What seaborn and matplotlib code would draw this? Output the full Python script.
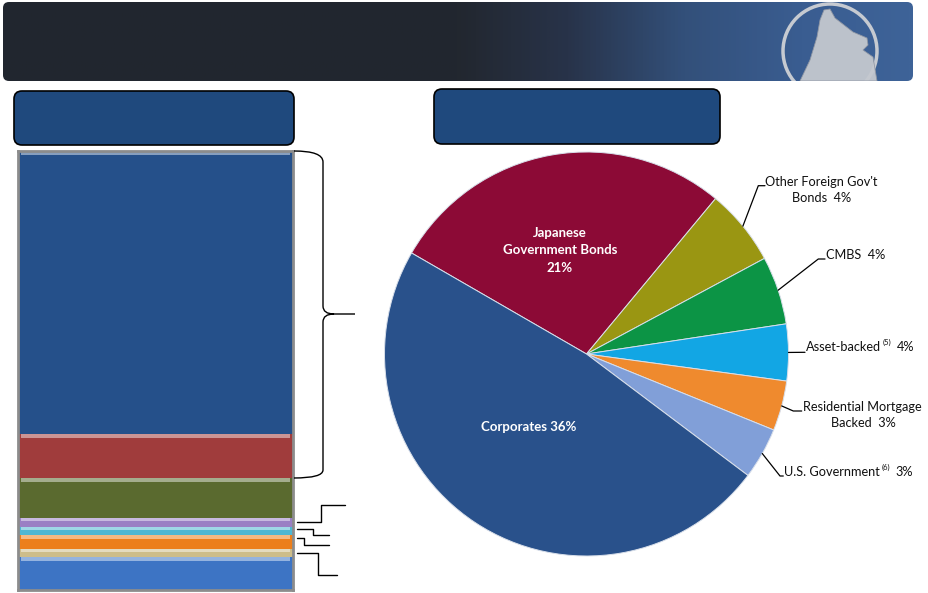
import numpy as np
import matplotlib
matplotlib.use("Agg")
import matplotlib.pyplot as plt
import seaborn as sns
from matplotlib.patches import FancyBboxPatch, Circle, Polygon, PathPatch
from matplotlib.path import Path
from matplotlib.colors import LinearSegmentedColormap, to_rgb

# stacked bar (share of bar height, top to bottom)
bar_share = [64.5, 10.0, 9.1, 2.1, 1.8, 3.2, 1.8, 7.5]
bar_colors = ['#25508a', '#a03c3c', '#5a6a2f', '#9a7fc4',
              '#4fb7d2', '#ec7f1c', '#cdbd8a', '#3d74c4']

# pie (clockwise from the Corporates/JGB border)
pie_names = ['Japanese Government Bonds', "Other Foreign Gov't Bonds", 'CMBS',
             'Asset-backed', 'Residential Mortgage Backed', 'U.S. Government',
             'Corporates']
pie_values = [20.8, 4.6, 4.1, 3.4, 3.0, 3.1, 36.1]
pie_colors = ['#8c0a36', '#9a9612', '#0c9445', '#12a6e4',
              '#ef8a2e', '#819fd8', '#29518b']

sns.set_theme(style='white')
plt.rcParams['font.family'] = ['Lato', 'DejaVu Sans']

W, H = 929, 593
fig = plt.figure(figsize=(W / 100, H / 100), dpi=100)
fig.patch.set_facecolor('white')

# overlay in pixel units
ov = fig.add_axes([0, 0, 1, 1], zorder=5)
ov.patch.set_alpha(0)
ov.axis('off')

# header bar with gradient
hdr = FancyBboxPatch((3, 2), 910, 79, boxstyle='round,pad=0,rounding_size=6',
                     fc='none', ec='none')
ov.add_patch(hdr)
hdr_cmap = LinearSegmentedColormap.from_list(
    'hdr', [(0, '#21262f'), (0.5, '#22272f'), (0.62, '#283349'),
            (0.75, '#33507a'), (0.88, '#3a5d91'), (1, '#3e6398')])
grad = np.tile(np.linspace(0, 1, 600), (2, 1))
im = ov.imshow(grad, cmap=hdr_cmap, extent=(3, 913, 81, 2), aspect='auto')
im.set_clip_path(hdr)
ring = Circle((830, 51), 47, fill=False, ec='#c6cad1', lw=2.5)
ov.add_patch(ring)
ring.set_clip_path(hdr)
rock = Polygon([(824, 10), (830, 9), (835, 18), (853, 32), (867, 38),
                (868, 45), (863, 50), (873, 57), (877, 81), (833, 81),
                (800, 81), (810, 60), (817, 37), (820, 20)],
               fc='#c4c8cf', ec='#8f96a3', lw=0.6, alpha=0.95)
ov.add_patch(rock)
rock.set_clip_path(hdr)

# title boxes
for x0, y0, x1, y1 in [(14, 91, 294, 145), (434, 89, 720, 144)]:
    ov.add_patch(FancyBboxPatch((x0, y0), x1 - x0, y1 - y0,
                                boxstyle='round,pad=0,rounding_size=8',
                                fc='#1f497d', ec='black', lw=1.2))

# stacked bar
axb = fig.add_axes([18 / W, 3 / H, 275 / W, 439 / H])
top = 100.0
for share, col in zip(bar_share, bar_colors):
    axb.bar(0, share, bottom=top - share, width=1.0, color=col, lw=0)
    light = tuple(0.55 * np.array(to_rgb(col)) + 0.45)
    hl = min(share * 0.3, 0.8)
    axb.bar(0, hl, bottom=top - hl, width=0.98, color=light, lw=0)
    top -= share
axb.set_xlim(-0.5, 0.5)
axb.set_ylim(0, 100)
axb.set_xticks([])
axb.set_yticks([])
for sp in axb.spines.values():
    sp.set_color('#8c8c8c')
    sp.set_linewidth(2)

# brace and leaders on the left
brace = Path([(294, 151), (323, 151), (323, 162), (323, 306),
              (323, 314), (334, 314), (323, 314), (323, 322),
              (323, 470), (323, 478), (294, 478),
              (334, 314), (355, 314)],
             [Path.MOVETO, Path.CURVE3, Path.CURVE3, Path.LINETO,
              Path.CURVE3, Path.CURVE3, Path.CURVE3, Path.CURVE3,
              Path.LINETO, Path.CURVE3, Path.CURVE3,
              Path.MOVETO, Path.LINETO])
ov.add_patch(PathPatch(brace, fc='none', ec='black', lw=1.0))
for pts in [[(297, 521.7), (321, 521.7), (321, 505), (345, 505)],
            [(297, 529), (313, 529), (313, 535), (329, 535)],
            [(297, 537.7), (304, 537.7), (304, 545), (329, 545)],
            [(297, 552.7), (318, 552.7), (318, 575), (337, 575)]]:
    xs, ys = zip(*pts)
    ov.plot(xs, ys, color='black', lw=1.0)

# pie
CX, CY, R = 586.5, 354.0, 202.0
axp = fig.add_axes([(CX - R) / W, (H - CY - R) / H, 2 * R / W, 2 * R / H])
wedges, _ = axp.pie(pie_values, colors=pie_colors, startangle=150,
                    counterclock=False,
                    wedgeprops=dict(edgecolor='#d8dfea', linewidth=0.7))
axp.set_xlim(-1, 1)
axp.set_ylim(-1, 1)

def rim(w):
    a = np.deg2rad((w.theta1 + w.theta2) / 2)
    return CX + R * np.cos(a), CY - R * np.sin(a)

leaders = {1: [(758.3, 185.7), (765, 185.7)],
           2: [(818.3, 259), (825, 259)],
           3: [(805, 352.3)],
           4: [(793.3, 411), (801.7, 411)],
           5: [(780, 476), (783.3, 476)]}
for i, pts in leaders.items():
    xs, ys = zip(*([rim(wedges[i])] + pts))
    ov.plot(xs, ys, color='black', lw=0.9)

fs = 9.2
tc = '#111111'
ov.text(765, 181.7, "Other Foreign Gov't", fontsize=fs, color=tc, ha='left', va='center')
ov.text(822, 198.3, "Bonds  4%", fontsize=fs, color=tc, ha='center', va='center')
ov.text(826, 255, "CMBS  4%", fontsize=fs, color=tc, ha='left', va='center')
ov.text(803.3, 406.7, "Residential Mortgage", fontsize=fs, color=tc, ha='left', va='center')
ov.text(863, 423.3, "Backed  3%", fontsize=fs, color=tc, ha='center', va='center')

def with_note(x, y, main, note, pct):
    t = ov.text(x, y, main, fontsize=fs, color=tc, ha='left', va='center')
    s = ov.annotate(note, xy=(1, 1), xycoords=t, xytext=(1.5, 1),
                    textcoords='offset points', fontsize=5.5, color=tc,
                    ha='left', va='top')
    ov.annotate(pct, xy=(1, 0.5), xycoords=(s, t), xytext=(3.5, 0),
                textcoords='offset points', fontsize=fs, color=tc,
                ha='left', va='center')

with_note(805.7, 346.7, "Asset-backed", "(5)", "4%")
with_note(784, 471.7, "U.S. Government", "(6)", "3%")

# labels inside
for txt, y in [("Japanese", 232.7), ("Government Bonds", 250), ("21%", 268.3)]:
    ov.text(560, y, txt, fontsize=9.5, color='white', weight='bold',
            ha='center', va='center')
ov.text(529, 427.3, "Corporates 36%", fontsize=9.5, color='white',
        weight='bold', ha='center', va='center')

ov.set_xlim(0, W)
ov.set_ylim(H, 0)

fig.savefig('out.png', dpi=100)
